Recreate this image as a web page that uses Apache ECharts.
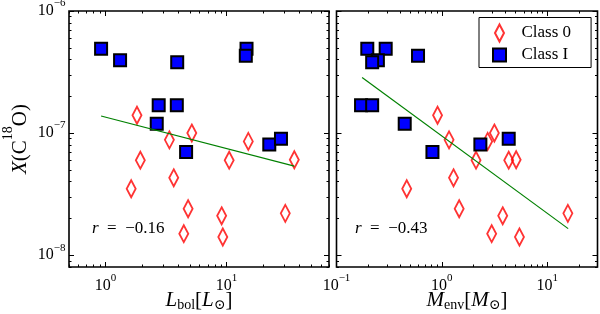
<!DOCTYPE html>
<html><head><meta charset="utf-8">
<script src="https://cdn.jsdelivr.net/npm/echarts@6/dist/echarts.min.js"></script>
<style>html,body{margin:0;padding:0;background:#fff}#c{width:600px;height:314px}</style>
</head><body><div id="c"></div><script>
// ---- data ----
const class0X    = [1.40e-7, 8.8e-8, 1.0e-7, 8.55e-8, 6.0e-8, 6.0e-8, 6.05e-8, 3.5e-8, 4.3e-8, 2.4e-8, 2.1e-8, 1.5e-8, 1.41e-8, 2.2e-8];
const class0Lbol = [1.82, 3.37, 5.16, 15.1, 1.94, 10.5, 36.2, 1.63, 3.66, 4.81, 9.1, 4.43, 9.3, 30.5];
const class0Menv = [0.91, 1.17, 3.15, 2.72, 2.11, 4.31, 5.07, 0.464, 1.29, 1.46, 3.78, 2.97, 5.45, 15.7];

const class1X    = [4.9e-7, 4.9e-7, 4.3e-7, 3.95e-7, 3.8e-7, 1.69e-7, 1.69e-7, 1.19e-7, 7.0e-8, 8.07e-8, 9.0e-8];
const class1Lbol = [0.92, 14.6, 14.4, 1.32, 3.91, 2.75, 3.88, 2.65, 4.63, 22.5, 28.1];
const class1Menv = [0.196, 0.293, 0.594, 0.247, 0.218, 0.171, 0.218, 0.444, 0.814, 2.32, 4.31];

const fitLbolX = [0.92, 36.2];
const fitLbolY = [1.38e-7, 5.37e-8];
const fitMenvX = [0.175, 15.8];
const fitMenvY = [2.85e-7, 1.65e-8];

const rLbol = '−0.16';
const rMenv = '−0.43';

const yTickLabels = [1e-8, 1e-7, 1e-6];
const xTickLabelsL = [1, 10];
const xTickLabelsM = [0.1, 1, 10];
const legendNames = ['Class 0', 'Class I'];

// ---- helpers ----
const F = '"Liberation Serif","DejaVu Serif",serif';
const pair = (xs, ys) => xs.map((x, i) => [x, ys[i]]);
function minors(lo, hi) {
  const out = [];
  for (let e = -10; e <= 3; e++) for (let k = 2; k <= 9; k++) {
    const v = +(k * Math.pow(10, e)).toPrecision(6);
    if (v >= lo * 0.9999 && v <= hi * 1.0001) out.push(v);
  }
  return out;
}
const fmt = v => { const e = Math.round(Math.log10(v)); return '{b|10}{s|' + (e < 0 ? '−' + (-e) : e) + '}'; };
const tickRich = {
  b: {fontFamily: F, fontSize: 16, lineHeight: 26, verticalAlign: 'middle', color: '#000'},
  s: {fontFamily: F, fontSize: 11, lineHeight: 11, verticalAlign: 'top', color: '#000'}
};
const XL = {min: 0.5, max: 70}, XM = {min: 0.1, max: 30}, Y = {min: 8e-9, max: 1e-6};

function axis(gi, pos, rng, ticks, len, labels, margin, name) {
  const a = {
    type: 'log', logBase: 10, gridIndex: gi, position: pos, min: rng.min, max: rng.max,
    axisLine: {show: false, onZero: false}, splitLine: {show: false}, minorTick: {show: false},
    axisTick: {show: true, inside: true, length: len, customValues: ticks, lineStyle: {color: '#000', width: 1}},
    axisLabel: labels ? {show: true, customValues: labels, formatter: fmt, margin: margin, rich: tickRich, hideOverlap: false} : {show: false},
    axisPointer: {show: false}, silent: true, nameMoveOverlap: false
  };
  if (name) Object.assign(a, name);
  return a;
}
function xSet(gi, rng, labels, name) {
  const maj = labels.filter(v => v >= rng.min && v <= rng.max);
  const mi = minors(rng.min, rng.max);
  return [
    axis(gi, 'bottom', rng, maj, 5, labels, 6, name),
    axis(gi, 'bottom', rng, mi, 2.5, null),
    axis(gi, 'top', rng, maj, 5, null),
    axis(gi, 'top', rng, mi, 2.5, null)
  ];
}
function ySet(gi, rng, withLabels, name) {
  const maj = yTickLabels;
  const mi = minors(rng.min, rng.max);
  return [
    axis(gi, 'left', rng, maj, 5, withLabels ? yTickLabels : null, 3.5, name),
    axis(gi, 'left', rng, mi, 2.5, null),
    axis(gi, 'right', rng, maj, 5, null),
    axis(gi, 'right', rng, mi, 2.5, null)
  ];
}
const nameRichX = {
  i: {fontFamily: F, fontStyle: 'italic', fontSize: 21, lineHeight: 23, verticalAlign: 'middle', color: '#000'},
  n: {fontFamily: F, fontSize: 21, lineHeight: 23, verticalAlign: 'middle', color: '#000'},
  sb: {fontFamily: F, fontSize: 14, lineHeight: 14, verticalAlign: 'bottom', color: '#000'}
};
const nameRichY = {
  i: {fontFamily: F, fontStyle: 'italic', fontSize: 21, lineHeight: 30, verticalAlign: 'bottom', color: '#000'},
  n: {fontFamily: F, fontSize: 21, lineHeight: 30, verticalAlign: 'bottom', color: '#000'},
  sp: {fontFamily: F, fontSize: 14, lineHeight: 14, verticalAlign: 'top', color: '#000'}
};

const xAxes = [].concat(
  xSet(0, XL, xTickLabelsL, {name: '{i|L}{sb|bol}{n|[}{i|L}{sb|⊙}{n|]}', nameLocation: 'middle', nameGap: 22, nameTextStyle: {rich: nameRichX}}),
  xSet(1, XM, xTickLabelsM, {name: '{i|M}{sb|env}{n|[}{i|M}{sb|⊙}{n|]}', nameLocation: 'middle', nameGap: 22, nameTextStyle: {rich: nameRichX}})
);
const yAxes = [].concat(
  ySet(0, Y, true, {name: '{i|X}{n|(C}{sp|18}{n|O)}', nameLocation: 'middle', nameRotate: 90, nameGap: 38, nameTextStyle: {rich: nameRichY}}),
  ySet(1, Y, false)
);

const c0Style = {color: 'rgba(255,255,255,0)', borderColor: '#ff0000', borderWidth: 2};
const c1Style = {color: '#0000ff', borderColor: '#000', borderWidth: 2, opacity: 1};
function panelSeries(k, c0x, c1x, fx, fy) {
  const ai = k * 4;
  return [
    {type: 'scatter', name: legendNames[0], xAxisIndex: ai, yAxisIndex: ai, data: pair(c0x, class0X),
     symbol: 'diamond', symbolSize: [9, 17], itemStyle: c0Style, z: 2},
    {type: 'scatter', name: legendNames[1], xAxisIndex: ai, yAxisIndex: ai, data: pair(c1x, class1X),
     symbol: 'rect', symbolSize: 12, itemStyle: c1Style, z: 3},
    {type: 'line', name: 'fit' + k, xAxisIndex: ai, yAxisIndex: ai, data: pair(fx, fy),
     showSymbol: false, symbol: 'none', lineStyle: {color: '#008000', width: 1.2}, z: 4}
  ];
}
const rText = v => '{i|r}\u2002=\u2002' + v;
const rStyle = v => ({text: rText(v), fontFamily: F, fontSize: 17, fill: '#000', rich: {i: {fontFamily: F, fontStyle: 'italic', fontSize: 17}}});

const chart = echarts.init(document.getElementById('c'), null, {renderer: 'canvas'});
chart.setOption({
  animation: false,
  backgroundColor: '#fff',
  grid: [
    {left: 69, top: 11, width: 260, height: 256, show: true, borderColor: '#000', borderWidth: 1.6, backgroundColor: 'rgba(0,0,0,0)', containLabel: false, outerBoundsMode: 'none'},
    {left: 336.5, top: 11, width: 261, height: 256, show: true, borderColor: '#000', borderWidth: 1.6, backgroundColor: 'rgba(0,0,0,0)', containLabel: false, outerBoundsMode: 'none'}
  ],
  xAxis: xAxes,
  yAxis: yAxes,
  legend: {
    data: [
      {name: legendNames[0], icon: 'path://M4.5,0L9,8.5L4.5,17L0,8.5Z'},
      {name: legendNames[1], icon: 'path://M0,0M17,17M2,2H15V15H2Z'}
    ],
    orient: 'vertical', left: 479, top: 17.5, itemWidth: 34, itemHeight: 17, itemGap: 3,
    padding: [6, 20, 3, 11], borderColor: '#000', borderWidth: 1, backgroundColor: '#fff',
    selectedMode: false, symbolKeepAspect: true,
    textStyle: {fontFamily: F, fontSize: 17, lineHeight: 17, color: '#000'}
  },
  graphic: [
    {type: 'text', left: 92, top: 220, silent: true, style: rStyle(rLbol)},
    {type: 'text', left: 355, top: 220, silent: true, style: rStyle(rMenv)}
  ],
  series: [].concat(
    panelSeries(0, class0Lbol, class1Lbol, fitLbolX, fitLbolY),
    panelSeries(1, class0Menv, class1Menv, fitMenvX, fitMenvY)
  )
});
</script></body></html>
